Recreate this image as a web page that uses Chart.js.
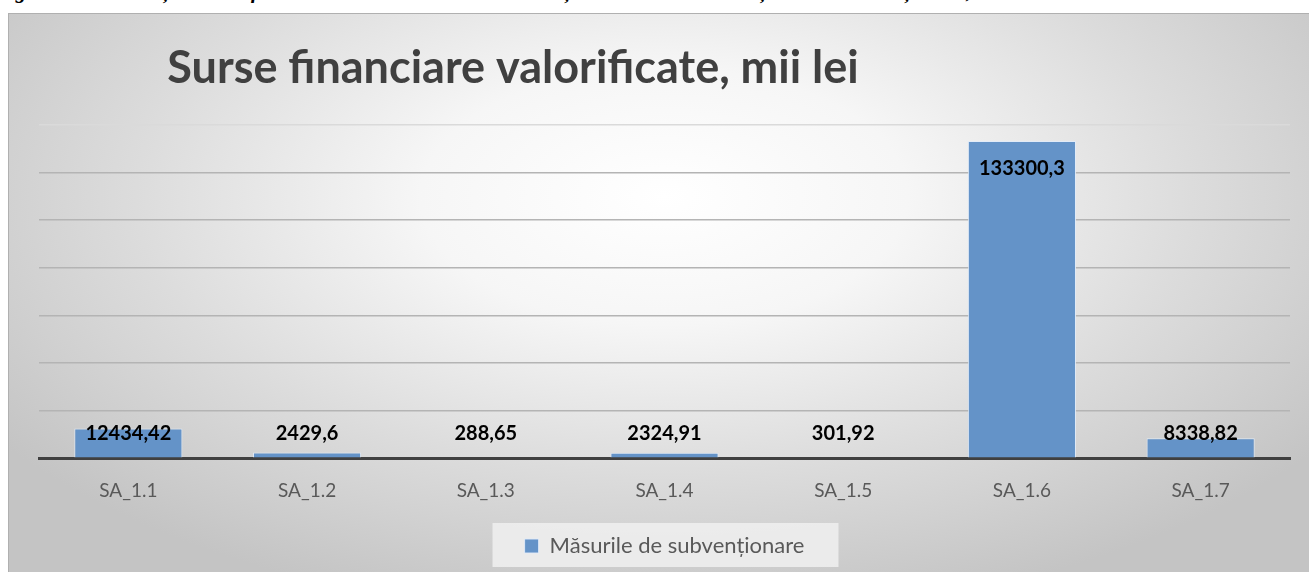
<!DOCTYPE html>
<html lang="ro">

<head>
    <meta charset="UTF-8">
    <title>Surse financiare valorificate</title>
    <script src="https://cdn.jsdelivr.net/npm/chart.js"></script>
    <style>
        body {
            margin: 0;
            width: 1309px;
            height: 572px;
            overflow: hidden;
            background: #fff;
            position: relative;
        }

        .caption {
            position: absolute;
            top: -21px;
            left: -4px;
            line-height: 24px;
            white-space: nowrap;
            font: bold italic 21px "Liberation Serif", serif;
            color: #000;
        }

        .frame {
            position: absolute;
            left: 8px;
            top: 13px;
            width: 1310px;
            height: 570px;
            border: 1px solid #b0b0b0;
            background: radial-gradient(ellipse 62% 75% at 50% 32%, #ffffff 0%, #f6f6f6 30%, #dcdcdc 65%, #c4c4c4 100%);
        }

        canvas {
            position: absolute;
            left: 0;
            top: 0;
        }
    </style>
</head>

<body>
    <div class="caption">Figura 1.1. Subvențiile valorificate în cadrul măsurilor de subvenționare a Fondului Național de Subvenționare, mii lei</div>
    <div class="frame">
        <canvas id="sursePlot" width="1300" height="558"></canvas>
    </div>

    <script>
        // date
        var categories = ['SA_1.1', 'SA_1.2', 'SA_1.3', 'SA_1.4', 'SA_1.5', 'SA_1.6', 'SA_1.7'];
        var sumeSubventii = [12434.42, 2429.6, 288.65, 2324.91, 301.92, 133300.3, 8338.82];
        var seriesName = 'Măsurile de subvenționare';
        var titleText = 'Surse financiare valorificate, mii lei';
        var yTicks = [0, 20000, 40000, 60000, 80000, 100000, 120000, 140000];

        // titlu desenat manual (pozitionat ca in Excel)
        var titlePlugin = {
            id: 'titluExcel',
            afterDraw: function (chart) {
                var ctx = chart.ctx;
                ctx.save();
                ctx.font = 'bold 45px Lato';
                ctx.fillStyle = '#404040';
                ctx.textAlign = 'center';
                ctx.textBaseline = 'middle';
                ctx.fillText(titleText, 504, 54);
                ctx.restore();
            }
        };

        // fundal pentru legenda
        var legendBox = {
            id: 'legendBox',
            beforeDraw: function (chart) {
                var lg = chart.legend;
                if (!lg) return;
                var ctx = chart.ctx;
                ctx.save();
                ctx.fillStyle = 'rgba(240, 240, 240, 0.85)';
                var w = 346;
                ctx.fillRect(lg.left + lg.width / 2 - w / 2 + 1, lg.top, w, lg.height);
                ctx.restore();
            }
        };

        // etichete valori (format cu virgula)
        var valueLabels = {
            id: 'valueLabels',
            afterDatasetsDraw: function (chart) {
                var ctx = chart.ctx;
                var meta = chart.getDatasetMeta(0);
                var base = chart.scales.y.getPixelForValue(0);
                ctx.save();
                ctx.font = 'bold 20px Lato';
                ctx.fillStyle = '#000';
                ctx.textAlign = 'center';
                ctx.textBaseline = 'middle';
                meta.data.forEach(function (bar, i) {
                    var y = Math.min(bar.y + 28, base - 25);
                    ctx.fillText(String(sumeSubventii[i]).replace('.', ','), bar.x, y);
                });
                ctx.restore();
            }
        };

        var ctx = document.getElementById('sursePlot').getContext('2d');
        var chart = new Chart(ctx, {
            type: 'bar',
            data: {
                labels: categories,
                datasets: [{
                    label: seriesName,
                    data: sumeSubventii,
                    backgroundColor: '#6493c8',
                    borderColor: 'rgba(225, 235, 248, 0.9)',
                    borderWidth: 1,
                    categoryPercentage: 1,
                    barPercentage: 0.605
                }]
            },
            options: {
                responsive: false,
                animation: false,
                layout: {
                    padding: { left: 30, right: 19, top: 111, bottom: 5 }
                },
                plugins: {
                    title: { display: false },
                    tooltip: { enabled: false },
                    legend: {
                        position: 'bottom',
                        labels: {
                            font: { family: 'Lato', size: 22 },
                            color: '#595959',
                            boxWidth: 14,
                            boxHeight: 14,
                            padding: 12
                        }
                    }
                },
                scales: {
                    x: {
                        grid: { display: false, drawTicks: false },
                        border: { color: '#404040', width: 3 },
                        ticks: {
                            font: { family: 'Lato', size: 19 },
                            color: '#595959',
                            padding: 21
                        }
                    },
                    y: {
                        min: 0,
                        max: 140000,
                        afterBuildTicks: function (axis) {
                            axis.ticks = yTicks.map(function (v) { return { value: v }; });
                        },
                        ticks: { display: false },
                        border: { display: false },
                        grid: {
                            drawTicks: false,
                            lineWidth: 1.5,
                            color: function (c) {
                                if (c.tick.value === 0) return 'rgba(0,0,0,0)';
                                if (c.tick.value === 140000) return '#dadada';
                                return '#b4b4b4';
                            }
                        }
                    }
                }
            },
            plugins: [titlePlugin, legendBox, valueLabels]
        });
    </script>
</body>

</html>
